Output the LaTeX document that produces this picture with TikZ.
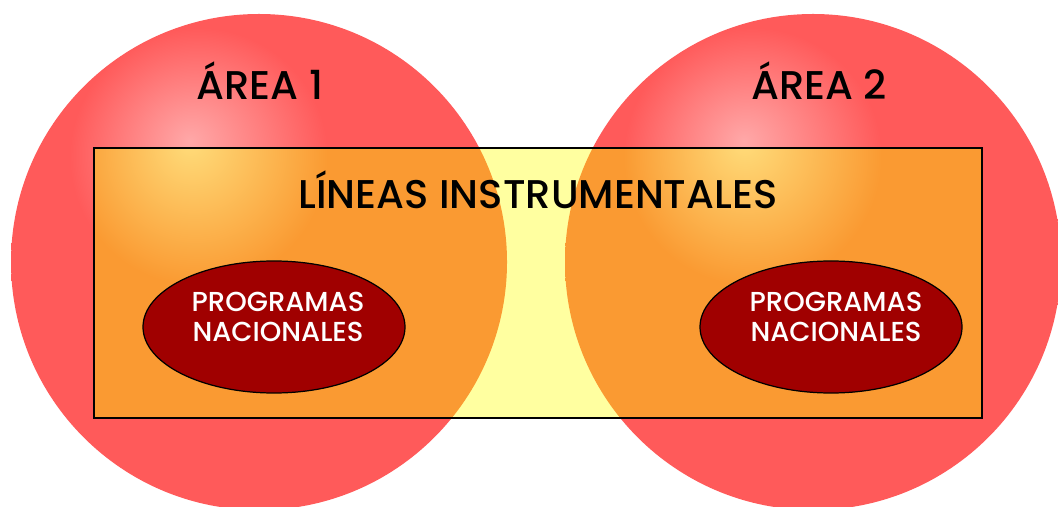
\documentclass[tikz,border=0pt]{standalone}
\usepackage{fontspec}
\setmainfont{Poppins}
\newfontfamily\medfont{Poppins Medium}
\usetikzlibrary{shapes.geometric}
\definecolor{redc}{HTML}{FF5A5A}
\definecolor{pinkc}{HTML}{FFA8A8}
\definecolor{orangec}{HTML}{FA9A32}
\definecolor{lightyc}{HTML}{FFDC7A}
\definecolor{rectyc}{HTML}{FFFFA0}
\definecolor{ellc}{HTML}{A00000}
\pgfdeclareradialshading{redball}{\pgfpoint{-7bp}{12.2bp}}{color(0bp)=(pinkc); color(13bp)=(redc); color(100bp)=(redc)}
\pgfdeclareradialshading{orangeball}{\pgfpoint{-7bp}{12.2bp}}{color(0bp)=(lightyc); color(13bp)=(orangec); color(100bp)=(orangec)}
\tikzset{
  areatext/.style={font=\medfont\fontsize{11.4}{13}\selectfont, text=black, anchor=base, inner sep=0},
  titletext/.style={font=\medfont\fontsize{11.4}{13}\selectfont, text=black, anchor=base, inner sep=0},
  prog/.style={ellipse, draw=black, line width=0.35pt, fill=ellc,
    minimum width=262*0.01cm, minimum height=132*0.01cm, inner sep=0},
  progtext/.style={text=white, align=center, inner sep=0,
    font=\medfont\fontsize{7.8}{8.3}\selectfont},
  frame/.style={draw=black, line width=0.5pt}
}
\begin{document}
\begin{tikzpicture}[x=0.01cm, y=0.01cm]
\useasboundingbox (0,0) rectangle (1058,506);
\clip (0,0) rectangle (1058,506);
% circles
\path[shading=redball] (259,244) circle (248);
\path[shading=redball] (813,244) circle (248);
% rectangle
\fill[rectyc] (94,88) rectangle (982,358);
\begin{scope}
  \clip (94,88) rectangle (982,358);
  \path[shading=orangeball] (259,244) circle (248);
  \path[shading=orangeball] (813,244) circle (248);
\end{scope}
\node[frame, minimum width=888*0.01cm, minimum height=270*0.01cm, inner sep=0] (rect) at (538,223) {};
% texts
\node[areatext] (a1) at (260,406) {ÁREA 1};
\node[areatext] (a2) at (819,406) {ÁREA 2};
\node[titletext] (lin) at (538,297) {LÍNEAS INSTRUMENTALES};
\node[prog] (p1) at (274,179) {};
\node[prog] (p2) at (831,179) {};
\node[progtext] (t1) at (278,189) {PROGRAMAS\\NACIONALES};
\node[progtext] (t2) at (836,189) {PROGRAMAS\\NACIONALES};
\end{tikzpicture}
\end{document}
